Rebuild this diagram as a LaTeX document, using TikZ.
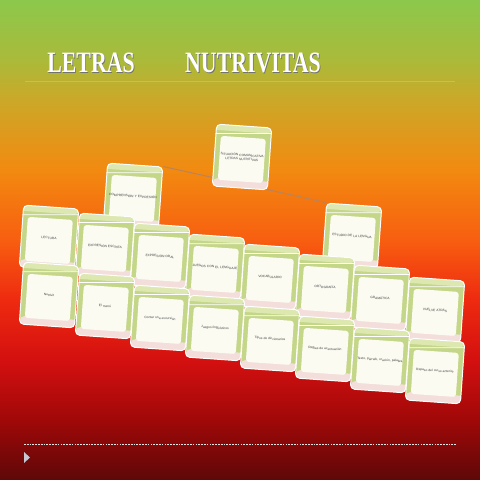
\documentclass[tikz,border=0pt]{standalone}
\usepackage{fontspec}
\newfontfamily\titlefont{Liberation Serif}
\newfontfamily\cardfont{Liberation Sans}
\usetikzlibrary{positioning}
\usetikzlibrary{backgrounds}

\definecolor{bgA}{HTML}{8CC84C}
\definecolor{bgB}{HTML}{AABA3A}
\definecolor{bgC}{HTML}{CCA828}
\definecolor{bgD}{HTML}{F28A10}
\definecolor{bgE}{HTML}{F85E10}
\definecolor{bgF}{HTML}{EE2A10}
\definecolor{bgG}{HTML}{D41010}
\definecolor{bgH}{HTML}{A00808}
\definecolor{bgI}{HTML}{5E0808}
\definecolor{cardgreen}{HTML}{C4D688}
\definecolor{cardtop}{HTML}{DCE8B0}
\definecolor{cardface}{HTML}{FBFBF2}
\definecolor{cardbase}{HTML}{F4DEDC}
\definecolor{linkline}{HTML}{B8845E}

\pgfdeclareverticalshading{slidebg}{100bp}{color(0bp)=(bgI); color(25bp)=(bgI);
  color(31.25bp)=(bgH); color(37.5bp)=(bgG); color(43.75bp)=(bgF); color(50bp)=(bgE);
  color(57.3bp)=(bgD); color(64.6bp)=(bgC); color(68.75bp)=(bgB); color(75bp)=(bgA);
  color(100bp)=(bgA)}

\begin{document}
\begin{tikzpicture}[x=0.025cm, y=-0.025cm,
    card/.style={draw=white, line width=0.7pt, rounded corners=3pt, fill=cardgreen,
      minimum width=1.38cm, minimum height=1.55cm, inner sep=0, rotate=-4,
      text width=1.25cm, align=center, font=\cardfont\fontsize{2.3}{2.8}\selectfont, text=black!75,
      path picture={
        \fill[cardtop] (path picture bounding box.north west) rectangle ([yshift=-0.24cm]path picture bounding box.north east);
        \draw[white, line width=0.6pt] ([yshift=-0.24cm]path picture bounding box.north west) -- ([yshift=-0.24cm]path picture bounding box.north east);
        \fill[cardbase] ([yshift=0.3cm]path picture bounding box.south west) rectangle (path picture bounding box.south east);
        \fill[cardface, rounded corners=2pt] ([xshift=0.12cm, yshift=0.26cm]path picture bounding box.south west) rectangle ([xshift=-0.12cm, yshift=-0.38cm]path picture bounding box.north east);
      }},
    title/.style={font=\titlefont\bfseries\fontsize{21}{24}\selectfont, xscale=0.74, transform shape, inner sep=0}]

  \useasboundingbox (0,0) rectangle (480,480);

  % title
  \node [title, text=black!55] (t1s) at (91.8,63.8) {LETRAS};
  \node [title, text=white] (t1) at (91,63) {LETRAS};
  \node [title, text=black!55] (t2s) at (253.8,63.8) {NUTRIVITAS};
  \node [title, text=white] (t2) at (253,63) {NUTRIVITAS};
  \draw [white, opacity=0.2, line width=0.6pt] (25,81) -- (455,81);

  % cards
  \node [card] (top) at (242,157) {SITUACIÓN COMUNICATIVA\\LETRAS NUTRITIVAS};
  \node [card] (ce) at (133,196) {COMPRENSIÓN Y EXPRESIÓN};
  \node [card] (el) at (352,236) {ESTUDIO DE LA LENGUA};

  \node [card] (lectura) at (49,238) {LECTURA};
  \node [card] (escrita) at (105,246) {EXPRESIÓN ESCRITA};
  \node [card] (oral) at (160,256) {EXPRESIÓN ORAL};
  \node [card] (juegos) at (215,267) {JUEGOS CON EL LENGUAJE};
  \node [card] (vocab) at (270,277) {VOCABULARIO};
  \node [card] (orto) at (325,287) {ORTOGRAFÍA};
  \node [card] (gram) at (380,298) {GRAMÁTICA};
  \node [card] (vuelve) at (435,310) {VUELVE ATRÁS};

  \node [card] (nutri) at (49,295) {Nutrivit};
  \node [card] (menu) at (105,306) {El menú};
  \node [card] (excursion) at (160,318) {Contar una excursión};
  \node [card] (ling) at (215,328) {Juegos lingüísticos};
  \node [card] (dicc) at (270,339) {Tipos de diccionarios};
  \node [card] (reglas) at (325,349) {Reglas de acentuación};
  \node [card] (texto) at (380,360) {Texto, párrafo, oración, palabra};
  \node [card] (repaso) at (435,371) {Repaso del curso anterior};

  \begin{pgfonlayer}{background}
    \shade[shading=slidebg] (0,0) rectangle (480,480);
    \draw [linkline, line width=0.7pt] (ce.north east) -- (el.north west);
  \end{pgfonlayer}

  % footer
  \draw [white!80!gray, dash pattern=on 1.2pt off 0.8pt, line width=0.5pt] (24,444) -- (456,444);
  \coordinate (arr) at (24,452);
  \fill [blue!10!gray!40!white] (arr) -- ++(6,5.5) -- ++(-6,5.5) -- cycle;
\end{tikzpicture}
\end{document}
